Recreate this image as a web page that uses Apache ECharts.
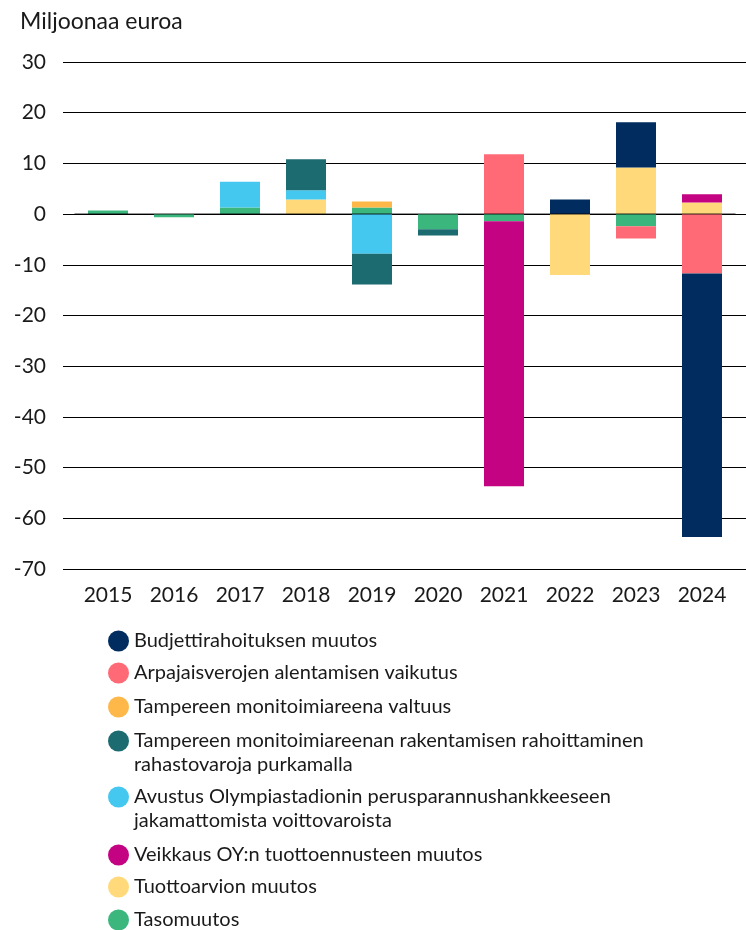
<!DOCTYPE html>
<html>
<head>
<meta charset="utf-8">
<script src="https://cdn.jsdelivr.net/npm/echarts@6/dist/echarts.min.js"></script>
<style>
html,body{margin:0;padding:0;background:#fff;}
#chart{width:746px;height:930px;}
</style>
</head>
<body>
<div id="chart"></div>
<script>
// ---- Data ----
const years = ['2015','2016','2017','2018','2019','2020','2021','2022','2023','2024'];
const yTicks = { min: -70, max: 30, step: 10 };
const unitLabel = 'Miljoonaa euroa';

const tasomuutos      = [0.7, -0.6, 1.3, 0, 1.3, -3.0, -1.4, 0, -2.4, 0];
const tuottoarvio     = [0, 0, 0, 2.9, 0, 0, 0, -12.0, 9.2, 2.3];
const veikkaus        = [0, 0, 0, 0, 0, 0, -52.3, 0, 0, 1.6];
const avustus         = [0, 0, 5.1, 1.8, -7.8, 0, 0, 0, 0, 0];
const tampereRahasto  = [0, 0, 0, 6.1, -6.1, -1.2, 0, 0, 0, 0];
const tampereValtuus  = [0, 0, 0, 0, 1.2, 0, 0, 0, 0, 0];
const arpajaisvero    = [0, 0, 0, 0, 0, 0, 11.8, 0, -2.4, -11.7];
const budjetti        = [0, 0, 0, 0, 0, 0, 0, 2.9, 8.9, -52.0];

// stacking order (closest to zero first)
const seriesDefs = [
  { name: 'Tasomuutos', data: tasomuutos, color: '#3BB77E' },
  { name: 'Tuottoarvion muutos', data: tuottoarvio, color: '#FFD97A' },
  { name: 'Veikkaus OY:n tuottoennusteen muutos', data: veikkaus, color: '#C40382' },
  { name: 'Avustus Olympiastadionin perusparannushankkeeseen jakamattomista voittovaroista', data: avustus, color: '#44C8F0',
    label: 'Avustus Olympiastadionin perusparannushankkeeseen\njakamattomista voittovaroista' },
  { name: 'Tampereen monitoimiareenan rakentamisen rahoittaminen rahastovaroja purkamalla', data: tampereRahasto, color: '#1B6B70',
    label: 'Tampereen monitoimiareenan rakentamisen rahoittaminen\nrahastovaroja purkamalla' },
  { name: 'Tampereen monitoimiareena valtuus', data: tampereValtuus, color: '#FDB849' },
  { name: 'Arpajaisverojen alentamisen vaikutus', data: arpajaisvero, color: '#FF6A76' },
  { name: 'Budjettirahoituksen muutos', data: budjetti, color: '#002C5F' }
];
// legend order (top to bottom)
const legendOrder = seriesDefs.slice().reverse();
const legendCenters = [641, 673, 707, 741, 797, 855, 887, 920];

const FONT = 'Lato';
const TXT = '#1a1a1a';

const chart = echarts.init(document.getElementById('chart'), null, { renderer: 'canvas' });

const legends = legendOrder.map((s, i) => {
  const multi = !!s.label;
  const c = legendCenters[i];
  return {
    left: 108,
    top: multi ? c - 36 : c - 12,
    orient: 'vertical',
    padding: 0,
    itemWidth: 21,
    itemHeight: 21,
    icon: 'circle',
    selectedMode: false,
    data: [s.name],
    formatter: () => multi ? '\n' + s.label : s.name,
    textStyle: { fontFamily: FONT, fontSize: 20, lineHeight: 24, color: TXT }
  };
});

const option = {
  backgroundColor: '#fff',
  animation: false,
  title: {
    text: unitLabel, left: 20, top: 10, padding: 0,
    textStyle: { fontFamily: FONT, fontSize: 23, fontWeight: 'normal', color: TXT }
  },
  legend: legends,
  grid: [
    { left: 63, right: 0, top: 62, bottom: 361 },
    { left: 75, right: 11, top: 62, bottom: 361 }
  ],
  xAxis: [
    { gridIndex: 0, type: 'value', show: false },
    { gridIndex: 1, type: 'category', data: years, z: 5,
      axisTick: { show: false },
      axisLine: { show: true, onZero: true, lineStyle: { color: 'rgba(0,0,0,0.55)', width: 1.5 } },
      axisLabel: { fontFamily: FONT, fontSize: 21, color: TXT, margin: 16 }
    }
  ],
  yAxis: [
    { gridIndex: 0, type: 'value', min: yTicks.min, max: yTicks.max, interval: yTicks.step,
      axisLine: { show: false }, axisTick: { show: false },
      axisLabel: { fontFamily: FONT, fontSize: 21, color: TXT, margin: 17, align: 'right' },
      splitLine: { show: true, lineStyle: { color: '#000', width: 1.2 } }
    },
    { gridIndex: 1, type: 'value', min: yTicks.min, max: yTicks.max, interval: yTicks.step, show: false,
      splitLine: { show: false } }
  ],
  series: seriesDefs.map(s => ({
    name: s.name,
    type: 'bar',
    stack: 'total',
    xAxisIndex: 1,
    yAxisIndex: 1,
    barWidth: 40,
    data: s.data,
    itemStyle: { color: s.color },
    emphasis: { disabled: true }
  }))
};

chart.setOption(option);
</script>
</body>
</html>
